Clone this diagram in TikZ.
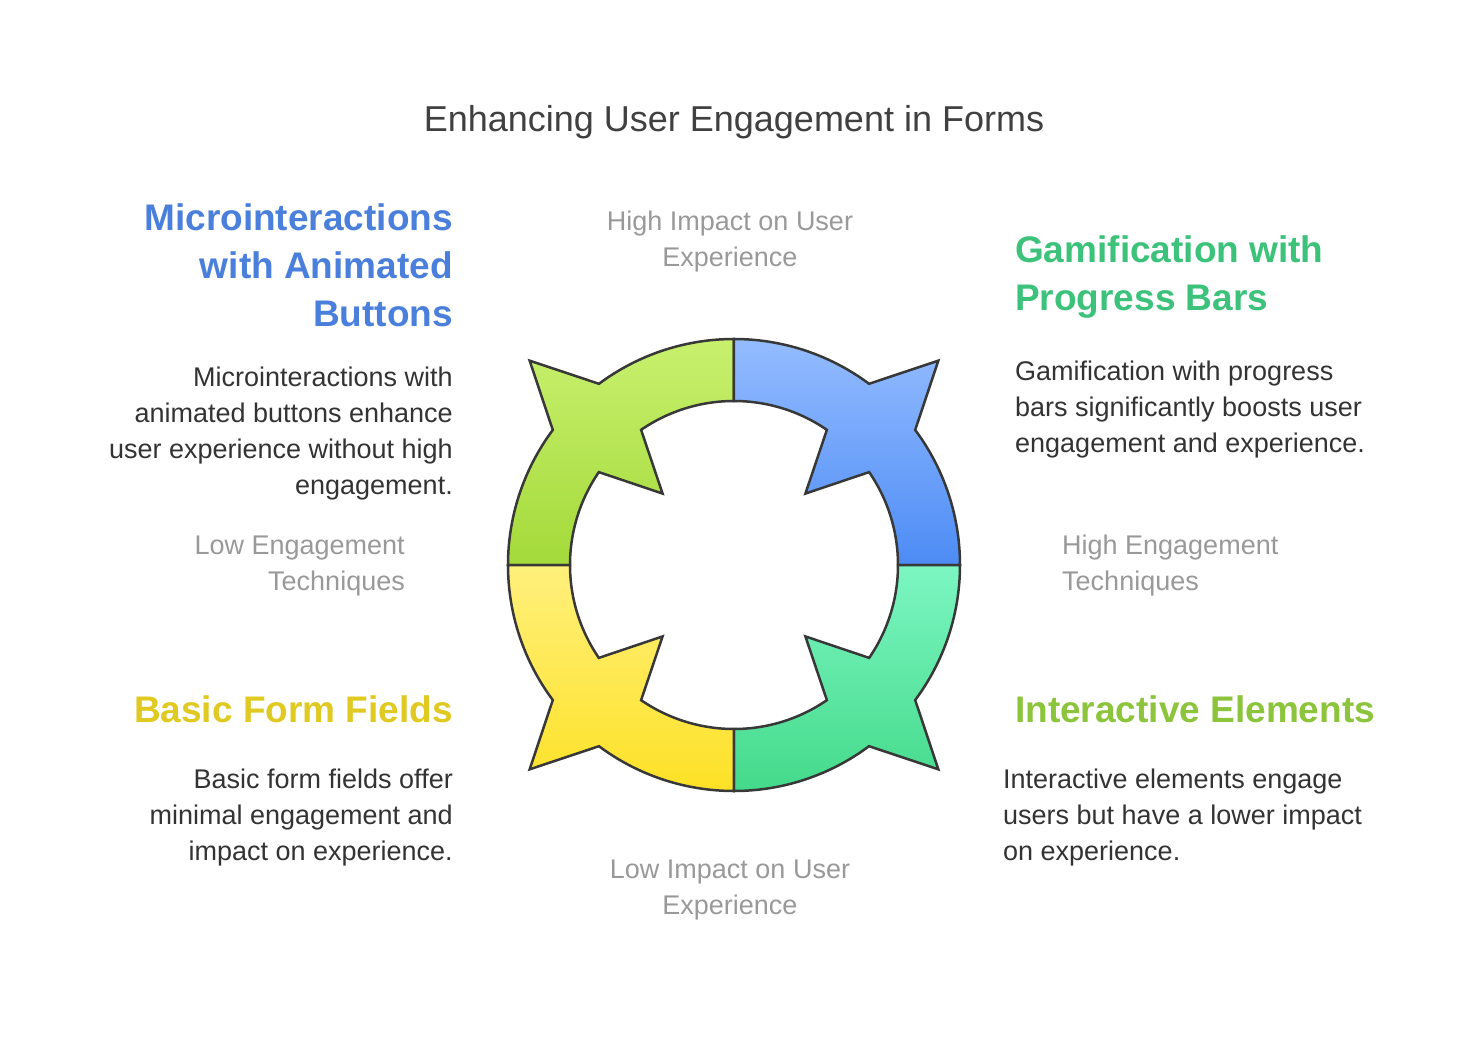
\documentclass[tikz,border=0pt]{standalone}
\usepackage{fontspec}
\setmainfont{Liberation Sans}
\begin{document}
\begin{tikzpicture}[x=1pt,y=1pt,
  seg/.style={draw=black!78,line width=2.5pt,line join=miter},
  body/.style={inner sep=0pt,text=black!80,font=\fontsize{27}{36}\selectfont},
  gray/.style={inner sep=0pt,text=black!40,font=\fontsize{27}{36}\selectfont},
  head/.style={inner sep=0pt,font=\bfseries\fontsize{37}{48}\selectfont}]
\useasboundingbox (-734,-472) rectangle (747,565);
\definecolor{cb}{HTML}{4A7FDC}\definecolor{cg}{HTML}{3CC27A}
\definecolor{cy}{HTML}{E0C920}\definecolor{cl}{HTML}{8CC43C}
\definecolor{q1t}{HTML}{C8F06E}\definecolor{q1b}{HTML}{A4DA3A}
\definecolor{q2t}{HTML}{94BCFF}\definecolor{q2b}{HTML}{4D8CF5}
\definecolor{q3t}{HTML}{7CF6C2}\definecolor{q3b}{HTML}{44DA8A}
\definecolor{q4t}{HTML}{FFF07C}\definecolor{q4b}{HTML}{FDE126}
\newcommand{\quadseg}[3]{%
 \pgfmathsetmacro{\m}{#1+45}\pgfmathsetmacro{\e}{#1+90}%
 \shade[seg,top color=#2,bottom color=#3]
  (#1:226) arc[start angle=#1,end angle=\m-8.3,radius=226] -- (\m:289) -- (\m+8.3:226)
  arc[start angle=\m+8.3,end angle=\e,radius=226] -- (\e:164)
  arc[start angle=\e,end angle=\m+10.5,radius=164] -- (\m:101) -- (\m-10.5:164)
  arc[start angle=\m-10.5,end angle=#1,radius=164] -- cycle;}
\quadseg{90}{q1t}{q1b}
\quadseg{0}{q2t}{q2b}
\quadseg{270}{q3t}{q3b}
\quadseg{180}{q4t}{q4b}
\node[inner sep=0pt,text=black!75,font=\fontsize{36}{44}\selectfont] (title) at (0,443) {Enhancing User Engagement in Forms};
\node[head,text=cb,anchor=east,align=right] (h1) at (-281,300) {Microinteractions\\with Animated\\Buttons};
\node[body,anchor=east,align=right] (b1) at (-281,131) {Microinteractions with\\animated buttons enhance\\user experience without high\\engagement.};
\node[head,text=cg,anchor=west,align=left] (h2) at (281,288) {Gamification with\\Progress Bars};
\node[body,anchor=west,align=left] (b2) at (281,155) {Gamification with progress\\bars significantly boosts user\\engagement and experience.};
\node[head,text=cy,anchor=east] (h3) at (-281,-144) {Basic Form Fields};
\node[body,anchor=east,align=right] (b3) at (-281,-253) {Basic form fields offer\\minimal engagement and\\impact on experience.};
\node[head,text=cl,anchor=west] (h4) at (281,-144) {Interactive Elements};
\node[body,anchor=west,align=left] (b4) at (269,-253) {Interactive elements engage\\users but have a lower impact\\on experience.};
\node[gray,align=center] (g1) at (-4,323) {High Impact on User\\Experience};
\node[gray,align=center] (g2) at (-4,-325) {Low Impact on User\\Experience};
\node[gray,anchor=east,align=right] (g3) at (-329,-1) {Low Engagement\\Techniques};
\node[gray,anchor=west,align=left] (g4) at (328,-1) {High Engagement\\Techniques};
\end{tikzpicture}
\end{document}
